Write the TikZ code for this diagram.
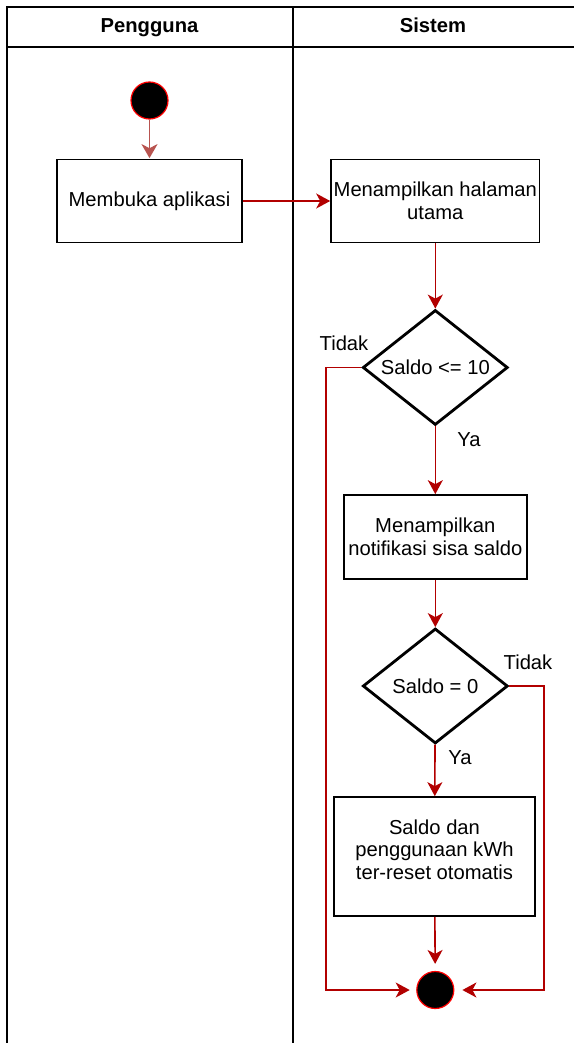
\documentclass[tikz,border=0pt]{standalone}
\usepackage{fontspec}
\setmainfont{Liberation Sans}
\usetikzlibrary{shapes.geometric,arrows.meta}
\definecolor{flow}{HTML}{B20000}
\definecolor{startarrow}{HTML}{B85450}
\definecolor{ringred}{HTML}{FF0000}
\tikzset{
  lane/.style={line width=2pt, black},
  actbox/.style={draw=black, line width=1.7pt, rectangle, align=center, inner sep=0pt, font=\fontsize{20.2}{22.5}\selectfont},
  decision/.style={draw=black, line width=2.8pt, diamond, inner sep=0pt, minimum width=145pt, minimum height=115pt, aspect=1.26, font=\fontsize{20.2}{22.5}\selectfont},
  terminal/.style={circle, fill=black, draw=ringred, line width=1.2pt, minimum size=37pt, inner sep=0pt},
  flowarrow/.style={draw=flow, line width=1.6pt, -{Stealth[length=14pt, width=15pt, inset=4pt]}},
  lbl/.style={font=\fontsize{20.2}{22.5}\selectfont, inner sep=0pt},
  hdr/.style={font=\fontsize{20.2}{22.5}\selectfont\bfseries, inner sep=0pt, anchor=base}
}
\begin{document}
\begin{tikzpicture}[x=1pt, y=-1pt]
\useasboundingbox (0,0) rectangle (573,1043);
% pool / lanes
\draw[lane] (6.7,1045) -- (6.7,7.3) -- (575,7.3);
\draw[lane] (6.7,46.7) -- (575,46.7);
\draw[lane] (292.7,7.3) -- (292.7,1045);
\node[hdr] (h1) at (149.5,33) {Pengguna};
\node[hdr] (h2) at (433,33) {Sistem};
% nodes
\node[terminal] (start) at (149.5,100.5) {};
\node[actbox, minimum width=184.5pt, minimum height=83pt] (b1) at (149.5,201) {Membuka aplikasi};
\node[actbox, minimum width=208.5pt, minimum height=83pt] (b2) at (435.3,201) {Menampilkan halaman\\utama};
\node[decision] (d1) at (435.3,367.5) {Saldo <= 10};
\node[actbox, minimum width=183pt, minimum height=84pt] (b3) at (435.3,537) {Menampilkan\\notifikasi sisa saldo};
\node[decision] (d2) at (435.3,686) {Saldo = 0};
\node[actbox, minimum width=201pt, minimum height=119pt] (b4) at (434.5,856.5) {Saldo dan\\penggunaan kWh\\ter-reset otomatis\\[-8pt]\mbox{}};
\node[terminal] (end) at (435.3,990) {};
\coordinate (lt) at (326,367.5);
\coordinate (lb) at (326,990);
\coordinate (rt) at (544,686);
\coordinate (rb) at (544,990);
% labels
\node[lbl] (t1) at (344,343.5) {Tidak};
\node[lbl] (y1) at (469,440) {Ya};
\node[lbl] (t2) at (528,662) {Tidak};
\node[lbl] (y2) at (460,758) {Ya};
% connectors
\draw[flowarrow, draw=startarrow, -{Stealth[length=14pt, width=16pt, inset=4pt]}, shorten >=0.5pt, color=startarrow] (start) -- (b1);
\draw[flowarrow, color=flow] (b1) -- (b2);
\draw[flowarrow, color=flow] (b2) -- (d1);
\draw[flowarrow, color=flow] (d1) -- (b3);
\draw[flowarrow, color=flow] (b3) -- (d2);
\draw[flowarrow, color=flow] (d2) -- (b4);
\draw[flowarrow, color=flow, shorten >=7pt] (b4) -- (end);
\draw[flowarrow, color=flow, shorten >=6.5pt] (d1.west) -- (lt) -- (lb) -- (end.west);
\draw[flowarrow, color=flow, shorten >=8pt] (d2.east) -- (rt) -- (rb) -- (end.east);
\end{tikzpicture}
\end{document}
